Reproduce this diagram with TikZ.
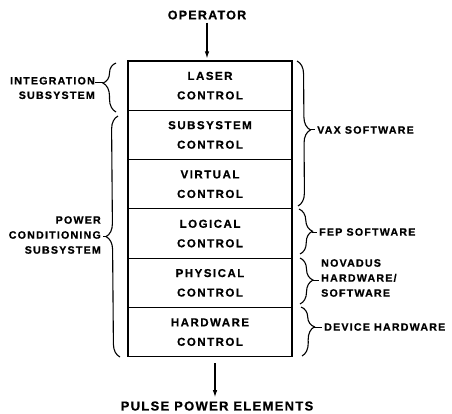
\documentclass[tikz,border=0pt]{standalone}
\usepackage{fontspec}
\setmainfont{Liberation Sans}
\newfontfamily\boxf[LetterSpace=13,FakeBold=0.6]{Liberation Sans}
\newfontfamily\sidef[LetterSpace=11,FakeBold=0.6]{Liberation Sans}
\newfontfamily\titf[LetterSpace=10,FakeBold=0.6]{Liberation Sans}
\usetikzlibrary{decorations.pathreplacing,arrows.meta}
\begin{document}
\begin{tikzpicture}[x=1pt,y=-1pt,
  layer/.style={draw,line width=1.1pt,minimum width=164pt,minimum height=49.3pt,
    inner sep=0pt,align=center,font=\boxf\bfseries\fontsize{11.5}{19.5}\selectfont},
  sidelbl/.style={inner sep=0pt,font=\sidef\bfseries\fontsize{10.7}{14.5}\selectfont},
  titlbl/.style={inner sep=0pt,font=\titf\bfseries\fontsize{12.5}{15}\selectfont},
  brc/.style={decorate,decoration={brace,amplitude=13pt,aspect=#1},line width=1.1pt},
  tick/.style={line width=1pt},
  flow/.style={line width=1.1pt,-{Latex[length=7pt,width=4.5pt]}}
]
\fill[white] (0,0) rectangle (452,414);
\useasboundingbox (0,0) rectangle (452,414);

% stack of layers
\node[layer] (laser)    at (210,85.65)  {LASER\\CONTROL};
\node[layer] (subsys)   at (210,134.95) {SUBSYSTEM\\CONTROL};
\node[layer] (virtual)  at (210,184.25) {VIRTUAL\\CONTROL};
\node[layer] (logical)  at (210,233.55) {LOGICAL\\CONTROL};
\node[layer] (physical) at (210,282.85) {PHYSICAL\\CONTROL};
\node[layer] (hardware) at (210,332.15) {HARDWARE\\CONTROL};

% top and bottom
\node[titlbl] (operator) at (207,15) {OPERATOR};
\node[titlbl,font=\titf\bfseries\fontsize{13}{15}\selectfont] (pulse) at (217,406) {PULSE POWER ELEMENTS};
\draw[flow,shorten <=3pt,shorten >=2pt] (operator.south) -- (operator.south |- laser.north);
\draw[flow,shorten <=6pt,shorten >=4pt] (hardware.south -| 215,0) -- (215,0 |- pulse.north);

% left labels and braces
\node[sidelbl,anchor=east,align=right] (integ) at (95,88) {INTEGRATION\\SUBSYSTEM};
\node[sidelbl,anchor=east,align=right,font=\sidef\bfseries\fontsize{10.7}{15}\selectfont] (power) at (101,235) {POWER\\CONDITIONING\\SUBSYSTEM};
\coordinate (ib1) at (116,112); \coordinate (ib2) at (116,63);
\coordinate (pb1) at (120,357); \coordinate (pb2) at (118,116);
\draw[brc=0.59] (ib1) -- (ib2);
\draw[brc=0.5] (pb1) -- (pb2);
\coordinate (itip) at (103,83);
\coordinate (ptip) at (106,236);
\draw[tick] (itip) -- (integ.east |- itip);
\draw[tick] (ptip) -- ([xshift=2pt]power.east |- ptip);

% right labels and braces
\node[sidelbl,anchor=west] (vax) at (317,130) {VAX SOFTWARE};
\node[sidelbl,anchor=west] (fep) at (319,232) {FEP SOFTWARE};
\node[sidelbl,anchor=west,align=left,font=\sidef\bfseries\fontsize{10.7}{15}\selectfont] (nov) at (321,278) {NOVADUS\\HARDWARE/\\SOFTWARE};
\node[sidelbl,anchor=west] (dev) at (324,327) {DEVICE HARDWARE};
\coordinate (vb1) at (297,61);  \coordinate (vb2) at (298,206);
\coordinate (fb1) at (299,209); \coordinate (fb2) at (300,254);
\coordinate (nb1) at (300,258); \coordinate (nb2) at (300,304);
\coordinate (db1) at (301,307); \coordinate (db2) at (302,356);
\draw[brc=0.476] (vb1) -- (vb2);
\draw[brc=0.5] (fb1) -- (fb2);
\draw[brc=0.48] (nb1) -- (nb2);
\draw[brc=0.41] (db1) -- (db2);
\coordinate (vtip) at (310,130);
\coordinate (ftip) at (312,232);
\coordinate (ntip) at (313,280);
\coordinate (dtip) at (314,327);
\draw[tick] (vtip) -- ([xshift=-2pt]vax.west |- vtip);
\draw[tick] (ftip) -- ([xshift=-2pt]fep.west |- ftip);
\draw[tick] (ntip) -- ([xshift=-2pt]nov.west |- ntip);
\draw[tick] (dtip) -- ([xshift=-2pt]dev.west |- dtip);
\end{tikzpicture}
\end{document}
